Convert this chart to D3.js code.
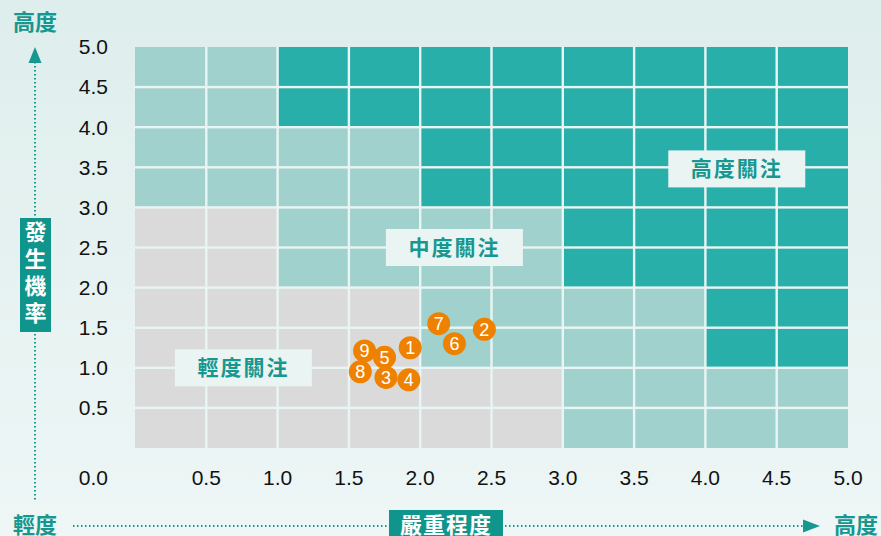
<!DOCTYPE html>
<html><head><meta charset="utf-8">
<script src="https://cdn.jsdelivr.net/npm/d3@7"></script>
<style>
html,body{margin:0;padding:0;}
body{width:881px;height:536px;overflow:hidden;}
svg{display:block;}
</style></head>
<body>
<svg id="chart" width="881" height="536"></svg>
<script>
// ---- data ----
const xTickValues = [0.5,1.0,1.5,2.0,2.5,3.0,3.5,4.0,4.5,5.0];
const yTickValues = [0.5,1.0,1.5,2.0,2.5,3.0,3.5,4.0,4.5,5.0];
const originLabel = "0.0";
// zone level per 1x1 block, rows from probability 0-1 (bottom) up to 4-5 (top); 0=輕度,1=中度,2=高度
const zoneRows = [
  [0,0,0,1,1],
  [0,0,1,1,2],
  [0,1,1,2,2],
  [1,1,2,2,2],
  [1,2,2,2,2]
];
const zoneNames = ["輕度關注","中度關注","高度關注"];
const zoneLabelPos = [[0.76,1.0],[2.24,2.5],[4.22,3.48]]; // [severity, probability] centers
const pointIds   = ["7","2","6","1","9","5","8","3","4"];
const pointSev   = [2.13,2.45,2.24,1.93,1.61,1.75,1.58,1.76,1.92];
const pointProb  = [1.55,1.48,1.30,1.25,1.21,1.13,0.95,0.88,0.85];
const xAxisTitle = "嚴重程度", yAxisTitle = "發生機率";
const lowLabel = "輕度", highLabel = "高度";

// ---- styles ----
const zoneColors = ["#dadada","#a0d1cd","#29afaa"];
const teal = "#16978f";
const cjk = "'Noto Sans CJK TC','Noto Sans CJK SC',sans-serif";
const num = "'Liberation Sans',Arial,sans-serif";

const svg = d3.select("#chart");
const defs = svg.append("defs");
const grad = defs.append("linearGradient").attr("id","bg").attr("x1",0).attr("y1",0).attr("x2",0).attr("y2",1);
grad.append("stop").attr("offset","0%").attr("stop-color","#deeeec");
grad.append("stop").attr("offset","100%").attr("stop-color","#eef6f6");
svg.append("rect").attr("width",881).attr("height",536).attr("fill","url(#bg)");

const x = d3.scaleLinear().domain([0,5]).range([135,848]);
const y = d3.scaleLinear().domain([0,5]).range([448,47]);

// grid background (gap colour)
svg.append("rect").attr("x",x(0)).attr("y",y(5)).attr("width",x(5)-x(0)).attr("height",y(0)-y(5)).attr("fill","#e9f5f4");

const cells = [];
for (let i=0;i<10;i++) for (let j=0;j<10;j++){
  const sx = i*0.5, sy = j*0.5;
  cells.push({sx, sy, lvl: zoneRows[Math.floor(sy)][Math.floor(sx)]});
}
const g = 1.2;
svg.append("g").selectAll("rect").data(cells).join("rect")
  .attr("x", d => x(d.sx) + (d.sx===0?0:g))
  .attr("y", d => y(d.sy+0.5) + (d.sy+0.5===5?0:g))
  .attr("width", d => x(d.sx+0.5)-x(d.sx) - (d.sx===0?g:2*g) + (d.sx+0.5===5?g:0))
  .attr("height", d => y(d.sy)-y(d.sy+0.5) - (d.sy+0.5===5?g:2*g) + (d.sy===0?g:0))
  .attr("fill", d => zoneColors[d.lvl]);

// zone labels
const zl = svg.append("g").selectAll("g").data(zoneNames).join("g")
  .attr("transform",(d,i)=>`translate(${x(zoneLabelPos[i][0])},${y(zoneLabelPos[i][1])})`);
zl.append("rect").attr("x",-68.5).attr("y",-18.5).attr("width",137).attr("height",37).attr("fill","#eaf4f3");
zl.append("text").attr("text-anchor","middle").attr("dy","0.36em")
  .attr("font-family",cjk).attr("font-weight",700).attr("font-size",21).attr("letter-spacing",2)
  .attr("fill",teal).text(d=>d);

// tick labels
svg.append("g").selectAll("text").data(xTickValues).join("text")
  .attr("x",d=>x(d)).attr("y",478).attr("dy","0.35em").attr("text-anchor","middle")
  .attr("font-family",num).attr("font-size",21).attr("fill","#111")
  .text(d=>d3.format(".1f")(d));
svg.append("g").selectAll("text").data(yTickValues).join("text")
  .attr("x",108).attr("y",d=>y(d)).attr("dy","0.35em").attr("text-anchor","end")
  .attr("font-family",num).attr("font-size",21).attr("fill","#111")
  .text(d=>d3.format(".1f")(d));
svg.append("text").attr("x",108).attr("y",478).attr("dy","0.35em").attr("text-anchor","end")
  .attr("font-family",num).attr("font-size",21).attr("fill","#111").text(originLabel);

// points
const pts = svg.append("g").selectAll("g").data(pointIds).join("g")
  .attr("transform",(d,i)=>`translate(${x(pointSev[i])},${y(pointProb[i])})`);
pts.append("circle").attr("r",11.5).attr("fill","#ee8200");
pts.append("text").attr("text-anchor","middle").attr("dy","0.36em")
  .attr("font-family",num).attr("font-size",18).attr("fill","#fff").text(d=>d);

// vertical axis decoration
svg.append("line").attr("x1",35).attr("x2",35).attr("y1",62).attr("y2",502)
  .attr("stroke",teal).attr("stroke-width",2).attr("stroke-dasharray","1.5,2.5");
svg.append("path").attr("d","M35,47 L41.5,63 L28.5,63 Z").attr("fill",teal);
svg.append("text").attr("x",35).attr("y",22).attr("dy","0.36em").attr("text-anchor","middle")
  .attr("font-family",cjk).attr("font-weight",700).attr("font-size",22).attr("fill",teal).text(highLabel);
svg.append("rect").attr("x",20).attr("y",218).attr("width",31).attr("height",114).attr("fill","#0f958c");
svg.append("text").attr("x",35.5).attr("y",221)
  .attr("writing-mode","vertical-rl").attr("text-orientation","upright")
  .attr("letter-spacing",5)
  .attr("font-family",cjk).attr("font-weight",700).attr("font-size",22).attr("fill","#fff").text(yAxisTitle);

// horizontal axis decoration
svg.append("line").attr("x1",73).attr("x2",803).attr("y1",526).attr("y2",526)
  .attr("stroke",teal).attr("stroke-width",2).attr("stroke-dasharray","1.5,2.5");
svg.append("path").attr("d","M820,526 L803,519.5 L803,532.5 Z").attr("fill",teal);
svg.append("text").attr("x",35).attr("y",525).attr("dy","0.36em").attr("text-anchor","middle")
  .attr("font-family",cjk).attr("font-weight",700).attr("font-size",22).attr("fill",teal).text(lowLabel);
svg.append("text").attr("x",856).attr("y",525).attr("dy","0.36em").attr("text-anchor","middle")
  .attr("font-family",cjk).attr("font-weight",700).attr("font-size",22).attr("fill",teal).text(highLabel);
svg.append("rect").attr("x",389).attr("y",510).attr("width",114).attr("height",30).attr("fill","#0f958c");
svg.append("text").attr("x",446).attr("y",525).attr("dy","0.36em").attr("text-anchor","middle")
  .attr("font-family",cjk).attr("font-weight",700).attr("font-size",22).attr("letter-spacing",1).attr("fill","#fff").text(xAxisTitle);
</script>
</body></html>
